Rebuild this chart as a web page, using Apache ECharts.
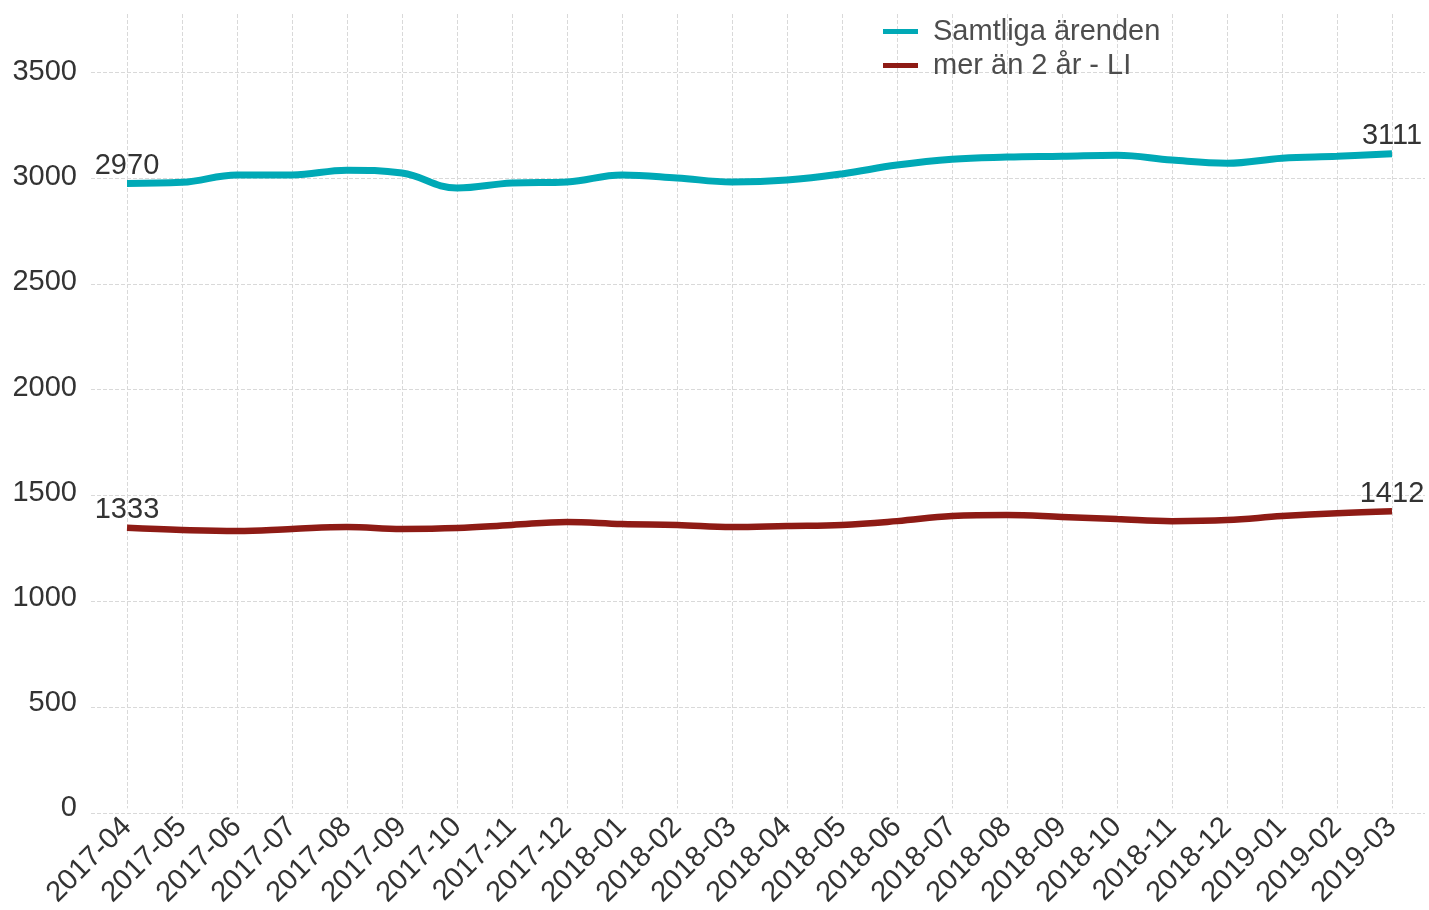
<!DOCTYPE html>
<html>
<head>
<meta charset="utf-8">
<script src="https://cdn.jsdelivr.net/npm/echarts@6/dist/echarts.min.js"></script>
<style>
  html, body { margin: 0; padding: 0; background: #fff; }
  #chart { width: 1429px; height: 910px; }
</style>
</head>
<body>
<div id="chart"></div>
<script>
const months = [
  '2017-04', '2017-05', '2017-06', '2017-07', '2017-08', '2017-09',
  '2017-10', '2017-11', '2017-12', '2018-01', '2018-02', '2018-03',
  '2018-04', '2018-05', '2018-06', '2018-07', '2018-08', '2018-09',
  '2018-10', '2018-11', '2018-12', '2019-01', '2019-02', '2019-03',
];
const samtliga = [2970, 2975, 3010, 3010, 3033, 3019, 2948, 2972, 2977, 3010, 2996, 2977,
  2986, 3015, 3057, 3085, 3095, 3099, 3104, 3081, 3066, 3090, 3099, 3111];
const merAn2 = [1333, 1323, 1318, 1328, 1337, 1328, 1332, 1347, 1361, 1351, 1347, 1337,
  1342, 1347, 1365, 1389, 1394, 1385, 1375, 1365, 1370, 1389, 1403, 1412];
const seriesNames = ['Samtliga ärenden', 'mer än 2 år - LI'];

const font = 'Liberation Sans, Arial, sans-serif';
const gridLine = { show: true, lineStyle: { type: 'dashed', color: '#d9d9d9', width: 1 } };

// only first and last value get a label
function withEndLabels(values) {
  return values.map((v, i) => {
    if (i === 0 || i === values.length - 1) {
      return { value: v, label: { show: true } };
    }
    return v;
  });
}

const chart = echarts.init(document.getElementById('chart'));
chart.setOption({
  backgroundColor: '#fff',
  textStyle: { fontFamily: font },
  legend: {
    orient: 'vertical',
    left: 878,
    top: 12,
    itemWidth: 35,
    itemHeight: 5,
    itemGap: 5,
    icon: 'rect',
    data: seriesNames,
    textStyle: { fontSize: 29, color: '#4d4d4d', fontFamily: font, padding: [0, 0, 0, 10] },
  },
  grid: [
    { left: 127, right: 37, top: 14, bottom: 97 },
    { left: 91, right: 4, top: 14, bottom: 97 },
  ],
  xAxis: [
    {
      type: 'category',
      gridIndex: 0,
      data: months,
      boundaryGap: false,
      axisLine: { show: false },
      axisTick: { show: false },
      splitLine: gridLine,
      axisLabel: {
        rotate: 45,
        margin: 14,
        fontSize: 29,
        color: '#333',
        fontFamily: font,
        interval: 0,
      },
    },
    {
      type: 'value',
      gridIndex: 1,
      show: false,
    },
  ],
  yAxis: [
    {
      type: 'value',
      gridIndex: 0,
      min: 0,
      max: 3775,
      interval: 500,
      axisLine: { show: false },
      axisTick: { show: false },
      splitLine: { show: false },
      axisLabel: {
        margin: 50,
        fontSize: 29,
        color: '#333',
        fontFamily: font,
        showMaxLabel: false,
        formatter: (v) => String(v),
      },
    },
    {
      type: 'value',
      gridIndex: 1,
      min: 0,
      max: 3775,
      interval: 500,
      axisLine: { show: false },
      axisTick: { show: false },
      axisLabel: { show: false },
      splitLine: { ...gridLine, showMaxLine: false },
    },
  ],
  series: [
    {
      name: seriesNames[0],
      type: 'line',
      xAxisIndex: 0,
      yAxisIndex: 0,
      data: withEndLabels(samtliga),
      smooth: 0.4,
      showSymbol: true,
      symbol: 'circle',
      symbolSize: 0,
      color: '#00a9b6',
      lineStyle: { width: 7, color: '#00a9b6' },
      label: { position: 'top', distance: 3, fontSize: 29, color: '#333', fontFamily: font },
      z: 3,
    },
    {
      name: seriesNames[1],
      type: 'line',
      xAxisIndex: 0,
      yAxisIndex: 0,
      data: withEndLabels(merAn2),
      smooth: 0.4,
      showSymbol: true,
      symbol: 'circle',
      symbolSize: 0,
      color: '#8e1b15',
      lineStyle: { width: 6.5, color: '#8e1b15' },
      label: { position: 'top', distance: 3, fontSize: 29, color: '#333', fontFamily: font },
      z: 3,
    },
  ],
});
</script>
</body>
</html>
